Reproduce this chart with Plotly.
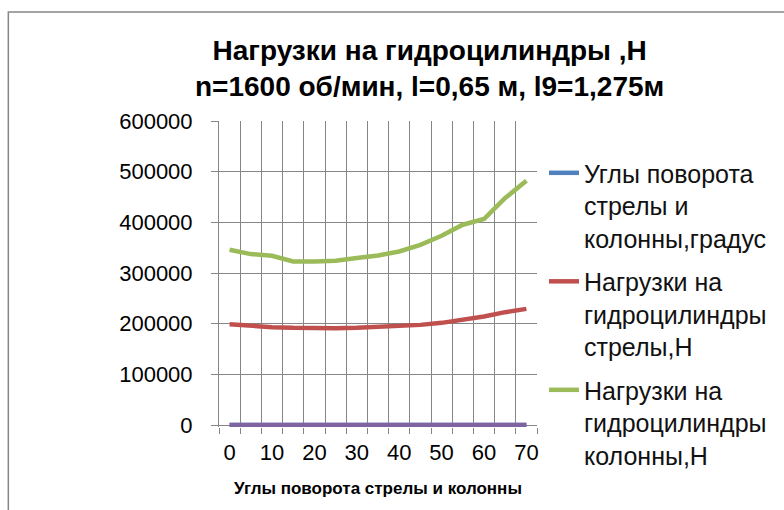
import plotly.graph_objects as go

# Rotation angles of boom and column, degrees (category axis)
angles = [0, 5, 10, 15, 20, 25, 30, 35, 40, 45, 50, 55, 60, 65, 70]

# Loads on the hydraulic cylinders, N
boom_load = [199000, 195600, 193000, 191700, 190300, 191000, 191700, 193000,
             195000, 197600, 201600, 207500, 214000, 222700, 229200]
column_load = [345800, 337300, 334000, 322700, 322700, 324100, 329400, 334600,
               342500, 355700, 373500, 395300, 406500, 448000, 482200]
# Extra worksheet column plotted along the zero line
extra_series = [0] * len(angles)

series_names = [
    "Углы поворота<br>стрелы и<br>колонны,градус",
    "Нагрузки на<br>гидроцилиндры<br>стрелы,Н",
    "Нагрузки на<br>гидроцилиндры<br>колонны,Н",
]
colors = ["#4F81BD", "#C0504D", "#9BBB59", "#8064A2"]

x_tick_vals = [0, 10, 20, 30, 40, 50, 60, 70]
y_tick_vals = [0, 100000, 200000, 300000, 400000, 500000, 600000]

FONT = "Liberation Sans"
GRID = "#868686"

fig = go.Figure()
for name, vals, col, grp in [(series_names[0], angles, colors[0], "a"),
                             (series_names[1], boom_load, colors[1], "b"),
                             (series_names[2], column_load, colors[2], "c")]:
    fig.add_trace(go.Scatter(x=angles, y=vals, mode="lines", name=name,
                             legendgroup=grp, line=dict(color=col, width=4.5)))
fig.add_trace(go.Scatter(x=angles, y=extra_series, mode="lines", showlegend=False,
                         line=dict(color=colors[3], width=4.5)))

# small headroom below zero so the zero-line traces are not clipped
Y_MIN = -3950
PLOT_H = 306

fig.update_layout(
    width=784, height=510,
    margin=dict(l=219, r=245, t=121, b=83),
    paper_bgcolor="white", plot_bgcolor="white",
    font=dict(family=FONT, size=22, color="black"),
    title=dict(
        text="<b>Нагрузки на гидроцилиндры ,Н<br>n=1600 об/мин, l=0,65 м, l9=1,275м</b>",
        x=0.548, xanchor="center", y=0.883, yanchor="middle",
        font=dict(family=FONT, size=28, color="black"),
    ),
    legend=dict(
        x=1.022, xanchor="left", y=0.905, yanchor="top",
        valign="top", tracegroupgap=8, maxheight=420,
        font=dict(family=FONT, size=25, color="#111111"),
        itemwidth=30, bgcolor="rgba(0,0,0,0)",
    ),
    xaxis=dict(
        range=[-2.5, 72.5], tickmode="array", tickvals=x_tick_vals,
        ticks="", showgrid=False, zeroline=False, showline=False,
        minor=dict(tick0=2.5, dtick=5, showgrid=True, gridcolor=GRID, gridwidth=1,
                   ticks="outside", ticklen=6, tickcolor=GRID),
        title=dict(text="<b>Углы поворота стрелы и колонны</b>",
                   font=dict(family=FONT, size=17, color="black"), standoff=18),
        tickfont=dict(size=22), ticklabelstandoff=10, fixedrange=True,
    ),
    yaxis=dict(
        range=[Y_MIN, 600000], tickmode="array", tickvals=y_tick_vals,
        tickformat="d", showgrid=True, gridcolor=GRID, gridwidth=1,
        zeroline=False, showline=True, linecolor=GRID, linewidth=1,
        ticks="outside", ticklen=7, tickcolor=GRID,
        tickfont=dict(size=22), ticklabelstandoff=14, fixedrange=True,
    ),
)

# Chart area border
fig.add_shape(type="rect", xref="paper", yref="paper",
              x0=(7 - 219) / 320, x1=2.0, y0=-1.0, y1=(427 - 12) / PLOT_H,
              line=dict(color="#868686", width=1.5), fillcolor="rgba(0,0,0,0)",
              layer="below")

fig.write_html("out.html")
